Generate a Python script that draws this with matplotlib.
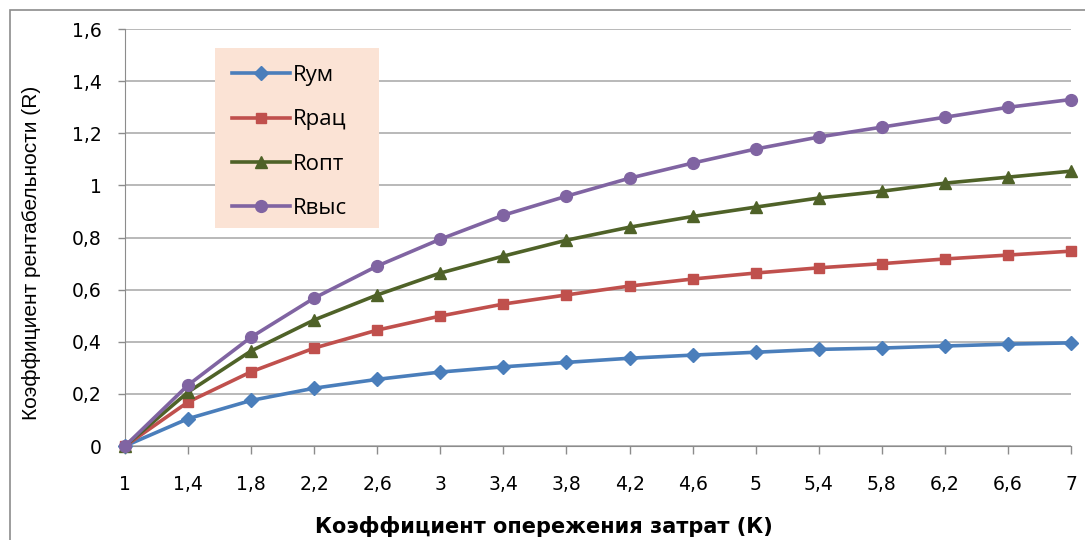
import matplotlib
matplotlib.use("Agg")
import matplotlib.pyplot as plt
from matplotlib.patches import Rectangle

# Коэффициент опережения затрат (K)
k_values = [1, 1.4, 1.8, 2.2, 2.6, 3, 3.4, 3.8, 4.2, 4.6, 5, 5.4, 5.8, 6.2, 6.6, 7]
k_labels = ["1", "1,4", "1,8", "2,2", "2,6", "3", "3,4", "3,8", "4,2", "4,6",
            "5", "5,4", "5,8", "6,2", "6,6", "7"]

# Коэффициент рентабельности (R)
r_um = [0, 0.105, 0.175, 0.222, 0.256, 0.284, 0.304, 0.321, 0.337, 0.349,
        0.360, 0.371, 0.376, 0.384, 0.391, 0.396]
r_rac = [0, 0.169, 0.285, 0.376, 0.445, 0.499, 0.545, 0.580, 0.614, 0.641,
         0.664, 0.684, 0.700, 0.718, 0.733, 0.748]
r_opt = [0, 0.207, 0.365, 0.484, 0.580, 0.664, 0.729, 0.790, 0.840, 0.881,
         0.917, 0.952, 0.978, 1.009, 1.032, 1.055]
r_vys = [0, 0.234, 0.418, 0.568, 0.691, 0.794, 0.886, 0.959, 1.028, 1.086,
         1.140, 1.186, 1.224, 1.262, 1.300, 1.330]

y_ticks = [0, 0.2, 0.4, 0.6, 0.8, 1.0, 1.2, 1.4, 1.6]
y_labels = ["0", "0,2", "0,4", "0,6", "0,8", "1", "1,2", "1,4", "1,6"]

plt.rcParams['font.family'] = ['DejaVu Sans']

fig = plt.figure(figsize=(10.85, 5.4), dpi=100)
ax = fig.add_axes([0.1152, 0.174, 0.8719, 0.772])

# outer chart frame
fig.patches.append(Rectangle((10 / 1085, -0.01), 1.0, 1 - 10 / 540 + 0.01,
                             transform=fig.transFigure, fill=False,
                             edgecolor="#8c8c8c", linewidth=1.2))

series = [
    ("Rум", r_um, "#4A7EBB", "D", 7),
    ("Rрац", r_rac, "#C0504D", "s", 7.5),
    ("Rопт", r_opt, "#4F6228", "^", 9),
    ("Rвыс", r_vys, "#8064A2", "o", 8.5),
]
for name, vals, color, marker, ms in series:
    ax.plot(k_values, vals, color=color, linewidth=2.6, marker=marker,
            markersize=ms, label=name, clip_on=False, zorder=3)

ax.set_xlim(1.0, 7.0)
ax.set_ylim(0, 1.6)
ax.set_xticks(k_values)
ax.set_xticklabels(k_labels, fontsize=13.5)
ax.set_yticks(y_ticks)
ax.set_yticklabels(y_labels, fontsize=13.5)
ax.tick_params(axis="x", length=6, width=1, color="#8c8c8c", pad=15)
ax.tick_params(axis="y", length=5, width=1, color="#8c8c8c", pad=12)

ax.grid(axis="y", color="#a6a6a6", linewidth=1.1)
ax.set_axisbelow(True)
for side in ["top", "right"]:
    ax.spines[side].set_visible(False)
for side in ["left", "bottom"]:
    ax.spines[side].set_color("#8c8c8c")

ax.set_xlabel("Коэффициент опережения затрат (К)", fontsize=15,
              fontweight="bold")
ax.xaxis.set_label_coords(0.443, -0.168)
ax.set_ylabel("Коэффициент рентабельности (R)", fontsize=15,
              family=['Liberation Sans', 'DejaVu Sans'])
ax.yaxis.set_label_coords(-0.089, 0.463)

# legend background box (Excel style, wider than the entries)
ax.add_patch(Rectangle((0.0951, 0.5228), 0.1734, 0.4316, transform=ax.transAxes,
                       facecolor="#FBE3D5", edgecolor="none", zorder=2.5))

leg = ax.legend(loc="upper left", bbox_to_anchor=(0.113, 0.914),
                prop={'family': ['Open Sans', 'DejaVu Sans'], 'size': 16},
                frameon=False, handlelength=2.6, labelspacing=1.05,
                borderpad=0, handletextpad=0.15, borderaxespad=0)

fig.savefig("out.png", dpi=100)
